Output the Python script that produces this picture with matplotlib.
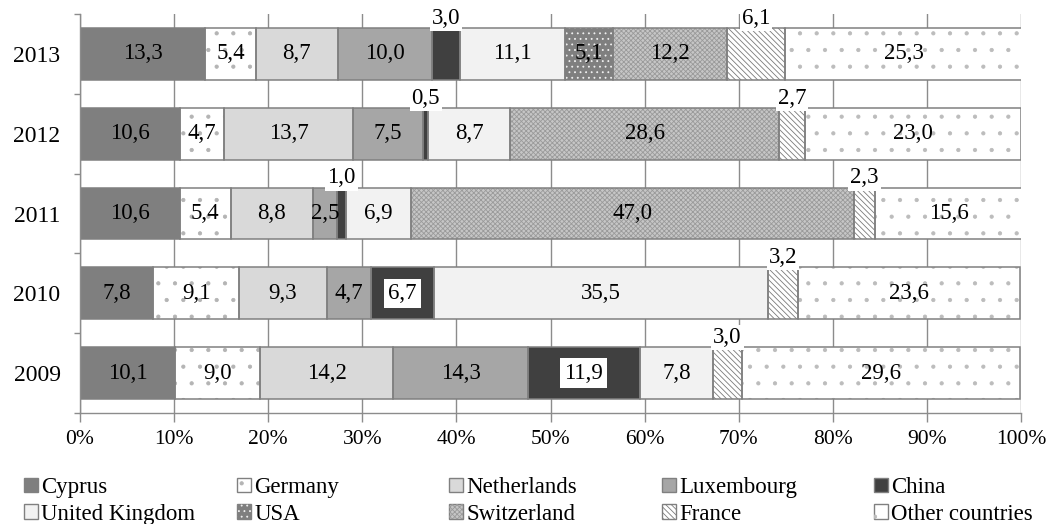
import numpy as np
import matplotlib
matplotlib.use('Agg')
import matplotlib.pyplot as plt
from matplotlib.patches import Patch
from matplotlib.legend_handler import HandlerTuple

plt.rcParams['font.family'] = ['Liberation Serif', 'DejaVu Serif']
plt.rcParams['hatch.linewidth'] = 0.6

years = ['2013', '2012', '2011', '2010', '2009']
countries = ['Cyprus', 'Germany', 'Netherlands', 'Luxembourg', 'China',
             'United Kingdom', 'USA', 'Switzerland', 'France', 'Other countries']

# shares in %, one list per country, years in the order above
cyprus = [13.3, 10.6, 10.6, 7.8, 10.1]
germany = [5.4, 4.7, 5.4, 9.1, 9.0]
netherlands = [8.7, 13.7, 8.8, 9.3, 14.2]
luxembourg = [10.0, 7.5, 2.5, 4.7, 14.3]
china = [3.0, 0.5, 1.0, 6.7, 11.9]
united_kingdom = [11.1, 8.7, 6.9, 35.5, 7.8]
usa = [5.1, 0.0, 0.0, 0.0, 0.0]
switzerland = [12.2, 28.6, 47.0, 0.0, 0.0]
france = [6.1, 2.7, 2.3, 3.2, 3.0]
other = [25.3, 23.0, 15.6, 23.6, 29.6]

series = [cyprus, germany, netherlands, luxembourg, china,
          united_kingdom, usa, switzerland, france, other]

# face colour, hatch, hatch colour
styles = [
    ('#7f7f7f', None, None),
    ('#ffffff', '.', '#b4b4b4'),
    ('#d9d9d9', None, None),
    ('#a6a6a6', None, None),
    ('#404040', None, None),
    ('#f2f2f2', None, None),
    ('#7f7f7f', '...', '#f0f0f0'),
    ('#c6c6c6', 'xxxxxxx', '#9a9a9a'),
    ('#ffffff', '\\\\\\\\\\\\', '#7a7a7a'),
    ('#ffffff', '.', '#bcbcbc'),
]

edge = '#808080'
grid_c = '#8c8c8c'


def fmt(v):
    return f'{v:.1f}'.replace('.', ',')


fig = plt.figure(figsize=(10.52, 5.24), dpi=100)
ax = fig.add_axes([80 / 1052, 1 - 413 / 524, 941 / 1052, 399 / 524])

y = np.arange(len(years))
h = 0.65
fs = 16.5
left = np.zeros(len(years))
handles = []
for name, vals, (fc, hatch, hc) in zip(countries, series, styles):
    vals = np.array(vals)
    m = vals > 0
    ax.barh(y[m], vals[m], left=left[m], height=h, color=fc, linewidth=0, zorder=2)
    if hatch:
        ax.barh(y[m], vals[m], left=left[m], height=h, color='none',
                edgecolor=hc, hatch=hatch, linewidth=0, zorder=2.1)
    ax.barh(y[m], vals[m], left=left[m], height=h, color='none',
            edgecolor=edge, linewidth=1.1, zorder=2.2)

    for yi, v, l in zip(y, vals, left):
        if v <= 0:
            continue
        cx = l + v / 2
        if name == 'France' or (name == 'China' and v < 4):
            ax.text(cx, yi - h / 2 - 0.12, fmt(v), ha='center', va='center',
                    fontsize=fs, zorder=4,
                    bbox=dict(facecolor='white', edgecolor='none', pad=1.5))
        elif name == 'China':
            ax.text(cx, yi, fmt(v), ha='center', va='center', fontsize=fs,
                    zorder=4, bbox=dict(facecolor='white', edgecolor='none', pad=3))
        else:
            ax.text(cx, yi, fmt(v), ha='center', va='center', fontsize=fs, zorder=4)
    left += vals

    p_fill = Patch(facecolor=fc, edgecolor=edge, linewidth=1.0)
    if hatch:
        p_hatch = Patch(facecolor='none', edgecolor=hc, hatch=hatch, linewidth=0)
        handles.append((p_fill, p_hatch))
    else:
        handles.append(p_fill)

ax.set_xlim(0, 100)
ax.set_ylim(len(years) - 0.5, -0.5)
ax.set_xticks(np.arange(0, 101, 10), [f'{t}%' for t in range(0, 101, 10)])
ax.set_yticks(y, years)
ax.set_yticks(np.arange(-0.5, len(years), 1), minor=True)
ax.tick_params(axis='x', length=6.5, width=1.0, color=grid_c, pad=6, labelsize=15.5)
ax.tick_params(axis='y', which='major', length=0, pad=14, labelsize=17)
ax.tick_params(axis='y', which='minor', length=4.5, width=1.0, color=grid_c)
ax.grid(axis='x', color=grid_c, linewidth=1.0, zorder=0)
ax.set_axisbelow(True)
for s in ['top', 'right']:
    ax.spines[s].set_visible(False)
for s in ['left', 'bottom']:
    ax.spines[s].set_color(grid_c)
    ax.spines[s].set_linewidth(1.0)

# legend laid out as five columns of two entries each
col_x = [24, 237, 449, 662, 874]
for i, x in enumerate(col_x):
    idx = [i, i + 5]
    fig.legend([handles[j] for j in idx], [countries[j] for j in idx],
               handler_map={tuple: HandlerTuple(ndivide=1, pad=0)},
               loc='upper left', bbox_to_anchor=(x / 1052, 1 - 477 / 524),
               frameon=False, fontsize=16.5, borderpad=0, borderaxespad=0,
               handlelength=0.6, handleheight=0.6, handletextpad=0.15,
               labelspacing=0.25)

fig.savefig('out.png', dpi=100)
